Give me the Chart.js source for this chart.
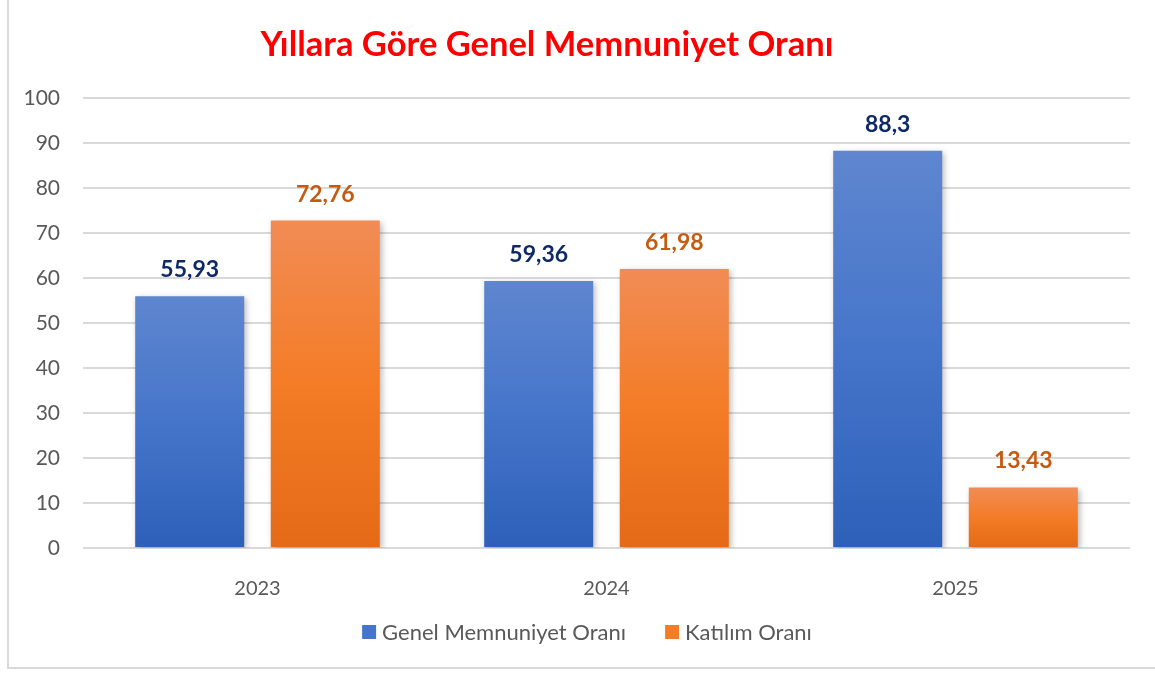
<!DOCTYPE html>
<html>
<head>
<meta charset="utf-8">
<script src="https://cdn.jsdelivr.net/npm/chart.js@4.4.1/dist/chart.umd.min.js"></script>
<style>
html,body{margin:0;padding:0;background:#fff;overflow:hidden;}
#wrap{position:relative;width:1155px;height:675px;}
#frame{position:absolute;left:7px;top:-10px;width:1200px;height:679px;border-left:2px solid #D9D9D9;border-bottom:2px solid #D9D9D9;box-sizing:border-box;pointer-events:none;}
canvas{position:absolute;left:0;top:0;}
</style>
</head>
<body>
<div id="wrap">
<canvas id="c" width="1155" height="675"></canvas>
<div id="frame"></div>
</div>
<script>
const chartTitle = "Yıllara Göre Genel Memnuniyet Oranı";
const categories = ["2023", "2024", "2025"];
const seriesNames = ["Genel Memnuniyet Oranı", "Katılım Oranı"];
const satisfaction = [55.93, 59.36, 88.3];
const participation = [72.76, 61.98, 13.43];
const yTicks = [0, 10, 20, 30, 40, 50, 60, 70, 80, 90, 100];

const FONT = "Lato, 'Open Sans', sans-serif";
const legendColors = ['#4575CA', '#F47C26'];

function gradFill(stops) {
  return function(ctx) {
    const chart = ctx.chart;
    const ys = chart.scales && chart.scales.y;
    if (!ys || !chart.chartArea || ctx.raw === undefined) return stops[1][1];
    const top = ys.getPixelForValue(ctx.raw);
    const bot = ys.getPixelForValue(0);
    const g = chart.ctx.createLinearGradient(0, top, 0, bot);
    stops.forEach(s => g.addColorStop(s[0], s[1]));
    return g;
  };
}

const shadowPlugin = {
  id: 'barShadow',
  beforeDatasetsDraw(chart) {
    const c = chart.ctx;
    c.save();
    c.shadowColor = 'rgba(0,0,0,0.28)';
    c.shadowBlur = 6;
    c.shadowOffsetX = 2;
    c.shadowOffsetY = 2;
  },
  afterDatasetsDraw(chart) {
    chart.ctx.restore();
  }
};

const labelPlugin = {
  id: 'valueLabels',
  afterDatasetsDraw(chart) {
    const c = chart.ctx;
    const colors = ['#0E2A66', '#C55A11'];
    c.save();
    c.font = "bold 23px " + FONT;
    c.textAlign = 'center';
    c.textBaseline = 'bottom';
    chart.data.datasets.forEach((ds, di) => {
      const meta = chart.getDatasetMeta(di);
      meta.data.forEach((bar, i) => {
        c.fillStyle = colors[di];
        c.fillText(String(ds.data[i]).replace('.', ','), bar.x, bar.y - 15);
      });
    });
    c.restore();
  }
};

const titlePlugin = {
  id: 'customTitle',
  afterDraw(chart) {
    const c = chart.ctx;
    c.save();
    c.font = "bold 34.5px " + FONT;
    c.fillStyle = '#FF0000';
    c.textAlign = 'center';
    c.textBaseline = 'middle';
    c.fillText(chartTitle, 547, 45);
    c.restore();
  }
};

const legendPlugin = {
  id: 'customLegend',
  afterDraw(chart) {
    const c = chart.ctx;
    c.save();
    c.font = "22px " + FONT;
    c.textBaseline = 'middle';
    const box = 14, gap = 6, itemGap = 39, cy = 632, cx = 587;
    const items = chart.data.datasets.map((ds, i) => ({ text: ds.label, color: legendColors[i], w: c.measureText(ds.label).width }));
    let total = 0;
    items.forEach((it, i) => { total += box + gap + it.w + (i < items.length - 1 ? itemGap : 0); });
    let x = cx - total / 2;
    items.forEach(it => {
      c.fillStyle = it.color;
      c.fillRect(x, cy - box / 2, box, box);
      c.fillStyle = '#595959';
      c.fillText(it.text, x + box + gap, cy + 1);
      x += box + gap + it.w + itemGap;
    });
    c.restore();
  }
};

new Chart(document.getElementById('c'), {
  type: 'bar',
  data: {
    labels: categories,
    datasets: [
      {
        label: seriesNames[0],
        data: satisfaction,
        backgroundColor: gradFill([[0, '#5F86CF'], [0.5, '#4575CA'], [1, '#2E60B9']]),
        categoryPercentage: 0.777,
        barPercentage: 0.804
      },
      {
        label: seriesNames[1],
        data: participation,
        backgroundColor: gradFill([[0, '#F18C55'], [0.5, '#F47C26'], [1, '#E46A17']]),
        categoryPercentage: 0.777,
        barPercentage: 0.804
      }
    ]
  },
  options: {
    responsive: false,
    animation: false,
    layout: { padding: { top: 98, right: 25, bottom: 62, left: 0 } },
    plugins: {
      title: { display: false },
      tooltip: { enabled: false },
      legend: { display: false }
    },
    scales: {
      x: {
        grid: { display: false },
        border: { display: false },
        ticks: { color: '#595959', font: { family: FONT, size: 20 }, padding: 21 },
        afterFit(s) { s.height = 65; }
      },
      y: {
        min: 0,
        max: 100,
        afterBuildTicks(s) { s.ticks = yTicks.map(v => ({ value: v })); },
        grid: { color: '#D9D9D9', lineWidth: 2, drawTicks: false },
        border: { display: false },
        ticks: { color: '#595959', font: { family: FONT, size: 21 }, padding: 23 },
        afterFit(s) { s.width = 83; }
      }
    }
  },
  plugins: [shadowPlugin, labelPlugin, titlePlugin, legendPlugin]
});
</script>
</body>
</html>
